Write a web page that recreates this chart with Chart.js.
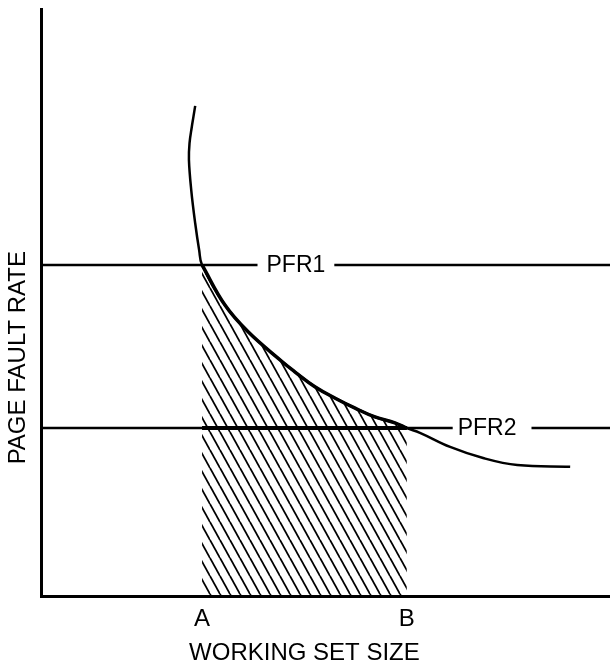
<!DOCTYPE html>
<html>
<head>
<meta charset="utf-8">
<script src="https://cdn.jsdelivr.net/npm/chart.js@4.4.1/dist/chart.umd.min.js"></script>
<style>
  html, body { margin: 0; padding: 0; background: #fff; }
  #wrap { width: 610px; height: 661px; position: relative; }
</style>
</head>
<body>
<div id="wrap"><canvas id="c"></canvas></div>
<script>
// ---- data (abstract units) ----
const curveX = [2.71, 2.68, 2.65, 2.61, 2.60, 2.64, 2.71, 2.78, 2.83, 3.23, 3.64, 4.24, 4.46, 4.82, 5.17, 5.52, 5.87, 6.22, 6.43, 6.66, 7.19, 7.77, 8.37, 9.30];
const curveY = [8.35, 8.17, 7.99, 7.71, 7.43, 6.92, 6.35, 5.89, 5.64, 4.96, 4.50, 3.99, 3.82, 3.56, 3.37, 3.20, 3.05, 2.95, 2.86, 2.78, 2.54, 2.35, 2.23, 2.20];
const pfrLevels = [5.64, 2.86];
const pfrLabels = ['PFR1', 'PFR2'];
const pfrLabelX = [4.48, 7.84];
const xTickValues = [2.83, 6.43];
const xTickLabels = ['A', 'B'];
const xTitle = 'WORKING SET SIZE';
const yTitle = 'PAGE FAULT RATE';
const indexA = 8, indexB = 18;

// ---- derived ----
const curvePts = curveX.map((x, i) => ({ x, y: curveY[i] }));
const hatchPts = curvePts.slice(indexA, indexB + 1);
const FONT = '"Liberation Sans", Arial, Helvetica, sans-serif';

// hatch pattern (diagonal "\" lines)
function makePattern() {
  const w = 10, h = 18;
  const pc = document.createElement('canvas');
  pc.width = w; pc.height = h;
  const g = pc.getContext('2d');
  g.strokeStyle = '#000';
  g.lineWidth = 1.8;
  [-w, 0, w].forEach(o => {
    g.beginPath(); g.moveTo(o, 0); g.lineTo(o + w, h); g.stroke();
  });
  return g.createPattern(pc, 'repeat');
}

const labelPlugin = {
  id: 'pfrLabels',
  afterDatasetsDraw(chart) {
    const { ctx, scales: { x, y }, chartArea } = chart;
    ctx.save();
    ctx.font = '23px ' + FONT;
    ctx.textAlign = 'center';
    ctx.textBaseline = 'middle';
    const padL = [9, 5], padR = [9, 15];
    pfrLabels.forEach((t, i) => {
      const px = x.getPixelForValue(pfrLabelX[i]);
      const py = y.getPixelForValue(pfrLevels[i]);
      const w = ctx.measureText(t).width;
      ctx.fillStyle = '#fff';
      ctx.fillRect(px - w / 2 - padL[i], py - 9, w + padL[i] + padR[i], 18);
      ctx.fillStyle = '#000';
      ctx.fillText(t, px, py + 1);
    });
    // axis titles
    ctx.font = '24px ' + FONT;
    ctx.fillText(xTitle, x.getPixelForValue(4.63), 653);
    ctx.translate(18, y.getPixelForValue(4.06));
    ctx.rotate(-Math.PI / 2);
    ctx.fillText(yTitle, 0, 0);
    ctx.restore();
  }
};

const pattern = makePattern();

new Chart(document.getElementById('c'), {
  type: 'scatter',
  data: {
    datasets: [
      { // hatched area under curve A..B
        data: hatchPts, showLine: true, borderColor: '#000', borderWidth: 3.5,
        backgroundColor: pattern, fill: 'origin', pointRadius: 0, tension: 0.4, order: 3
      },
      { // PFR1 line
        data: [{ x: 0, y: pfrLevels[0] }, { x: 10, y: pfrLevels[0] }], showLine: true,
        borderColor: '#000', borderWidth: 2.5, pointRadius: 0, order: 2
      },
      { // PFR2 line
        data: [{ x: 0, y: pfrLevels[1] }, { x: 10, y: pfrLevels[1] }], showLine: true,
        borderColor: '#000', borderWidth: 2.5, pointRadius: 0, order: 2
      },
      { // PFR2 thick between A and B
        data: [{ x: xTickValues[0], y: pfrLevels[1] }, { x: xTickValues[1], y: pfrLevels[1] }], showLine: true,
        borderColor: '#000', borderWidth: 4, pointRadius: 0, order: 1
      },
      { // curve
        data: curvePts, showLine: true, borderColor: '#000', borderWidth: 2.5,
        pointRadius: 0, tension: 0.4, fill: false, order: 0
      }
    ]
  },
  options: {
    responsive: true, maintainAspectRatio: false, animation: false,
    layout: { padding: { top: 9, right: 0, bottom: 0, left: 0 } },
    plugins: { legend: { display: false }, tooltip: { enabled: false } },
    scales: {
      x: {
        type: 'linear', min: 0, max: 10,
        grid: { display: false, drawTicks: false },
        border: { display: true, color: '#000', width: 3 },
        afterBuildTicks: s => { s.ticks = xTickValues.map(v => ({ value: v })); },
        afterFit: s => { s.height = 65; },
        ticks: {
          color: '#000', padding: 9, maxRotation: 0, autoSkip: false,
          font: { family: FONT, size: 24 },
          callback: (v) => { const i = xTickValues.indexOf(v); return i >= 0 ? xTickLabels[i] : ''; }
        },
        title: { display: false }
      },
      y: {
        type: 'linear', min: 0, max: 10,
        grid: { display: false, drawTicks: false },
        border: { display: true, color: '#000', width: 3 },
        ticks: { display: false },
        afterFit: s => { s.width = 41; },
        title: { display: false }
      }
    }
  },
  plugins: [labelPlugin]
});
</script>
</body>
</html>
